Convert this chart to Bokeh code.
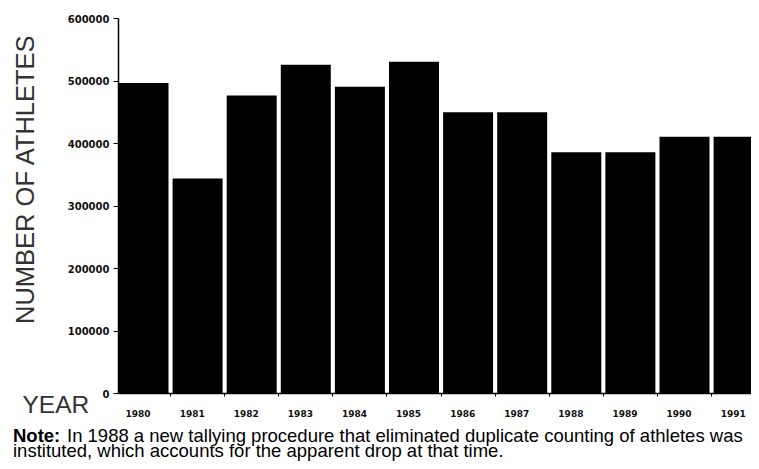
from bokeh.plotting import figure
from bokeh.models import FixedTicker, Label, Range1d, ColumnDataSource
from bokeh.embed import file_html
from bokeh.resources import INLINE
import math

years = ["1980", "1981", "1982", "1983", "1984", "1985", "1986", "1987", "1988", "1989", "1990", "1991"]
athletes = [497000, 344000, 477000, 526000, 491000, 531000, 450000, 450000, 386000, 386000, 411000, 411000]
y_ticks = [0, 100000, 200000, 300000, 400000, 500000, 600000]
y_tick_labels = ["0", "100000", "200000", "300000", "400000", "500000", "600000"]

# ---- layout geometry (pixels) ----
W, H = 751, 461     # fits the 759x469 window with its 8px margin
AX_X = 118          # pixel column of the y axis
AX_Y0 = 393         # pixel row of value 0
AX_Y1 = 18          # pixel row of the top tick
PITCH = 54.1        # pixels per bar slot
BAR_W = 0.924       # bar width in slot units

x0 = -BAR_W / 2
x_start = x0 - AX_X / PITCH
x_end = x0 + (W - AX_X) / PITCH
ymax = y_ticks[-1]
per_px = ymax / (AX_Y0 - AX_Y1)
y_start = -(H - AX_Y0) * per_px
y_end = ymax + AX_Y1 * per_px

xs = list(range(len(years)))
src = ColumnDataSource(dict(x=xs, top=athletes, year=years))

p = figure(width=W, height=H, output_backend="svg", toolbar_location=None,
           x_range=Range1d(x_start, x_end), y_range=Range1d(y_start, y_end),
           min_border=0, min_border_left=0, min_border_right=0, min_border_top=0, min_border_bottom=0)
p.outline_line_color = None
p.xgrid.grid_line_color = None
p.ygrid.grid_line_color = None
p.background_fill_color = "white"
p.border_fill_color = "white"

p.vbar(x="x", top="top", bottom=0, width=BAR_W, source=src, fill_color="black", line_color=None)

# y axis pinned at the left edge of the first bar
p.yaxis.fixed_location = x0
p.yaxis.bounds = (0, ymax)
p.yaxis.ticker = FixedTicker(ticks=y_ticks)
p.yaxis.major_label_overrides = {t: l for t, l in zip(y_ticks, y_tick_labels)}
p.yaxis.major_label_text_font = "DejaVu Sans"
p.yaxis.major_label_text_font_style = "bold"
p.yaxis.major_label_text_font_size = "10px"
p.yaxis.major_label_text_color = "#111111"
p.yaxis.major_tick_out = 5
p.yaxis.major_tick_in = 0
p.yaxis.minor_tick_line_color = None
p.yaxis.major_label_standoff = 4
p.yaxis.axis_line_width = 1.5
p.yaxis.axis_line_color = "black"
p.yaxis.major_tick_line_color = "black"

# x axis pinned at value 0
label_shift = -0.1
label_ticks = [i + label_shift for i in xs]
boundaries = [i + 0.5 for i in xs[:-1]]
p.xaxis.fixed_location = 0
p.xaxis.bounds = (x0, x_end)
p.xaxis.ticker = FixedTicker(ticks=label_ticks, minor_ticks=boundaries)
p.xaxis.major_label_overrides = {t: y for t, y in zip(label_ticks, years)}
p.xaxis.major_label_text_font = "DejaVu Sans"
p.xaxis.major_label_text_font_style = "bold"
p.xaxis.major_label_text_font_size = "9px"
p.xaxis.major_label_text_color = "#111111"
p.xaxis.major_tick_out = 0
p.xaxis.major_tick_in = 0
p.xaxis.major_tick_line_color = None
p.xaxis.minor_tick_out = 3
p.xaxis.minor_tick_in = 0
p.xaxis.minor_tick_line_color = "black"
p.xaxis.major_label_standoff = 13
p.xaxis.axis_line_width = 1.5
p.xaxis.axis_line_color = "black"


def sx(px):
    return px


def sy(py):
    return H - py


def text_label(text, x, y_mid, size, **kw):
    return Label(x=sx(x), y=sy(y_mid), x_units="screen", y_units="screen", text=text,
                 text_align=kw.pop("align", "left"), text_baseline="middle",
                 text_font="Liberation Sans", text_font_size=size, **kw)


# texts (screen units: origin at bottom-left of the frame, which fills the canvas)
p.add_layout(text_label("NUMBER OF ATHLETES", 24, 178.5, "25.5px", align="center",
                        angle=math.pi / 2, text_color="#333333"))
p.add_layout(text_label("YEAR", 22, 403.5, "24.5px", text_color="#333333"))
p.add_layout(text_label("Note:", 12.5, 434.5, "18.5px", text_font_style="bold", text_color="black"))
p.add_layout(text_label("In 1988 a new tallying procedure that eliminated duplicate counting of athletes was",
                        66.5, 434.5, "18.5px", text_color="black"))
p.add_layout(text_label("instituted, which accounts for the apparent drop at that time.",
                        12.5, 450, "18.5px", text_color="black"))

open("out.html", "w").write(file_html(p, INLINE))
